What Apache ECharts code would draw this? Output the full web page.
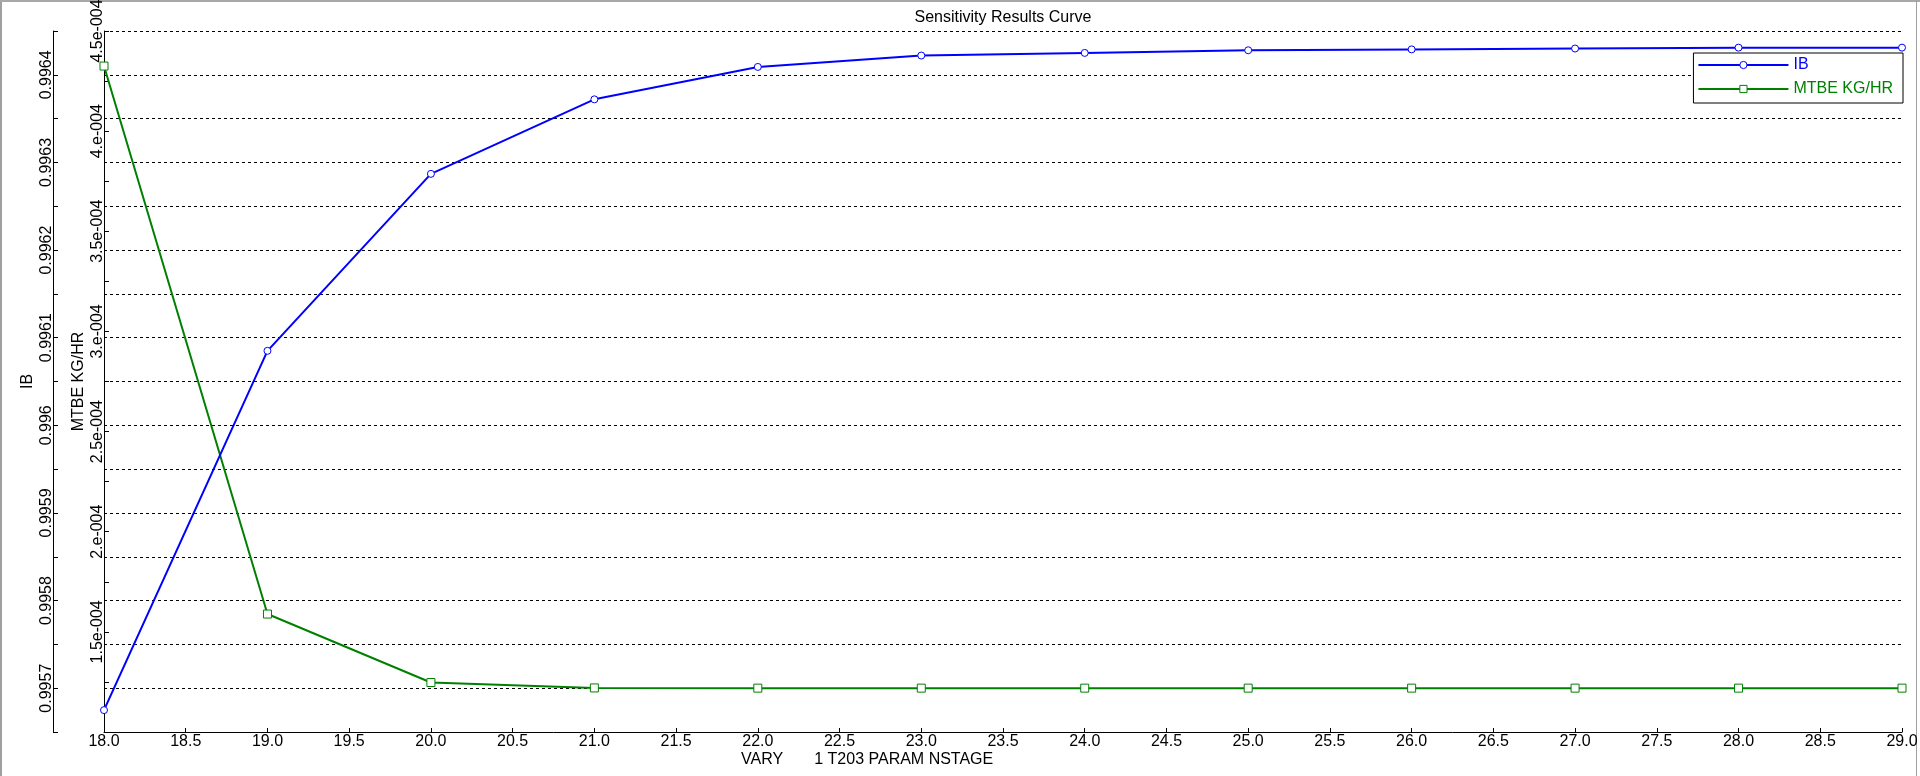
<!DOCTYPE html>
<html>
<head>
<meta charset="utf-8">
<script src="https://cdn.jsdelivr.net/npm/echarts@6/dist/echarts.min.js"></script>
<style>
html,body{margin:0;padding:0;background:#fff;}
#c{width:1920px;height:776px;}
</style>
</head>
<body>
<div id="c"></div>
<script>
// ---- data ----
const xValues = [18, 19, 20, 21, 22, 23, 24, 25, 26, 27, 28, 29];
const ibValues = [0.995675, 0.996085, 0.996287, 0.996372, 0.996409, 0.996422, 0.996425, 0.996428, 0.996429, 0.99643, 0.996431, 0.996431];
const mtbeValues = [4.325e-4, 1.589e-4, 1.247e-4, 1.22e-4, 1.219e-4, 1.219e-4, 1.219e-4, 1.219e-4, 1.219e-4, 1.219e-4, 1.219e-4, 1.219e-4];
const chartTitle = 'Sensitivity Results Curve';
const xAxisTitle = 'VARY       1 T203 PARAM NSTAGE';
const ibName = 'IB';
const mtbeName = 'MTBE KG/HR';

const FONT = '"Liberation Sans", Arial, sans-serif';
const BLUE = '#0000ff';
const GREEN = '#008000';

const chart = echarts.init(document.getElementById('c'), null, {renderer: 'canvas'});

function ibLabel(v) {
  const k = Math.round(v * 1e5);
  if (k % 10 !== 0) return '';
  return String(parseFloat((k / 1e5).toFixed(4)));
}
function mtbeLabel(v) {
  const k = Math.round(v * 1e6);
  if (k % 50 !== 0 || k === 100) return '';
  const m = k / 100;
  const s = Number.isInteger(m) ? m + '.' : String(m);
  return s + 'e-004';
}

const option = {
  animation: false,
  backgroundColor: '#fff',
  textStyle: {fontFamily: FONT},
  grid: {left: 104, right: 18, top: 31, bottom: 44, containLabel: false, outerBoundsMode: 'none'},
  legend: {
    show: true,
    orient: 'vertical',
    right: 17,
    top: 53,
    align: 'left',
    padding: [4, 10, 6, 4],
    itemGap: 8,
    itemWidth: 90,
    itemHeight: 9,
    backgroundColor: '#fff',
    borderColor: '#000',
    borderWidth: 1,
    borderRadius: 0,
    selectedMode: false,
    itemStyle: {borderWidth: 1},
    textStyle: {fontFamily: FONT, fontSize: 16},
    data: [
      {name: ibName, textStyle: {color: BLUE}},
      {name: mtbeName, textStyle: {color: GREEN}}
    ]
  },
  xAxis: {
    type: 'value',
    min: 18,
    max: 29,
    interval: 0.5,
    axisLine: {show: true, lineStyle: {color: '#000', width: 1}},
    axisTick: {show: true, inside: true, length: 4, lineStyle: {color: '#000'}},
    axisLabel: {margin: 2, fontFamily: FONT, fontSize: 16, color: '#000', formatter: v => v.toFixed(1)},
    splitLine: {show: false}
  },
  yAxis: [
    {
      type: 'value',
      name: ibName,
      nameLocation: 'middle',
      nameGap: 17,
      nameRotate: 90,
      nameMoveOverlap: false,
      nameTextStyle: {fontFamily: FONT, fontSize: 16, color: '#000'},
      position: 'left',
      offset: 51,
      min: 0.99565,
      max: 0.99645,
      interval: 0.00005,
      axisLine: {show: true, onZero: false, lineStyle: {color: '#000', width: 1}},
      axisTick: {show: true, inside: true, length: 5, lineStyle: {color: '#000'}},
      axisLabel: {rotate: 90, margin: -2, fontFamily: FONT, fontSize: 16, color: '#000', formatter: ibLabel},
      splitLine: {show: true, showMinLine: false, lineStyle: {color: '#000', type: [3, 3], width: 1}}
    },
    {
      type: 'value',
      name: mtbeName,
      nameLocation: 'middle',
      nameGap: 17,
      nameRotate: 90,
      nameMoveOverlap: false,
      nameTextStyle: {fontFamily: FONT, fontSize: 16, color: '#000'},
      position: 'left',
      offset: 0,
      min: 1e-4,
      max: 4.5e-4,
      interval: 0.25e-4,
      axisLine: {show: true, onZero: false, lineStyle: {color: '#000', width: 1}},
      axisTick: {show: true, inside: true, length: 5, lineStyle: {color: '#000'}},
      axisLabel: {rotate: 90, margin: -2, fontFamily: FONT, fontSize: 16, color: '#000', formatter: mtbeLabel},
      splitLine: {show: false}
    }
  ],
  series: [
    {
      name: ibName,
      type: 'line',
      yAxisIndex: 0,
      data: xValues.map((x, i) => [x, ibValues[i]]),
      symbol: 'circle',
      symbolSize: 7,
      showAllSymbol: true,
      clip: false,
      lineStyle: {color: BLUE, width: 2},
      itemStyle: {color: '#fff', borderColor: BLUE, borderWidth: 1},
      emphasis: {disabled: true},
      z: 3
    },
    {
      name: mtbeName,
      type: 'line',
      yAxisIndex: 1,
      data: xValues.map((x, i) => [x, mtbeValues[i]]),
      symbol: 'rect',
      symbolSize: 8,
      showAllSymbol: true,
      clip: false,
      lineStyle: {color: GREEN, width: 2},
      itemStyle: {color: '#fff', borderColor: GREEN, borderWidth: 1},
      emphasis: {disabled: true},
      z: 2
    }
  ],
  graphic: [
    {type: 'rect', silent: true, shape: {x: 0, y: 0, width: 2, height: 776}, style: {fill: '#a0a0a0'}},
    {type: 'rect', silent: true, shape: {x: 0, y: 0, width: 1920, height: 2}, style: {fill: '#a8a8a8'}},
    {type: 'rect', silent: true, shape: {x: 1916, y: 0, width: 1, height: 776}, style: {fill: '#a0a0a0'}},
    {type: 'text', silent: true, style: {text: chartTitle, x: 1003, y: 17.5, fill: '#000', font: '16px ' + FONT, textAlign: 'center', verticalAlign: 'middle', textVerticalAlign: 'middle'}},
    {type: 'text', silent: true, style: {text: xAxisTitle, x: 741, y: 760, fill: '#000', font: '16px ' + FONT, textAlign: 'left', verticalAlign: 'middle', textVerticalAlign: 'middle'}}
  ]
};
chart.setOption(option);
</script>
</body>
</html>
